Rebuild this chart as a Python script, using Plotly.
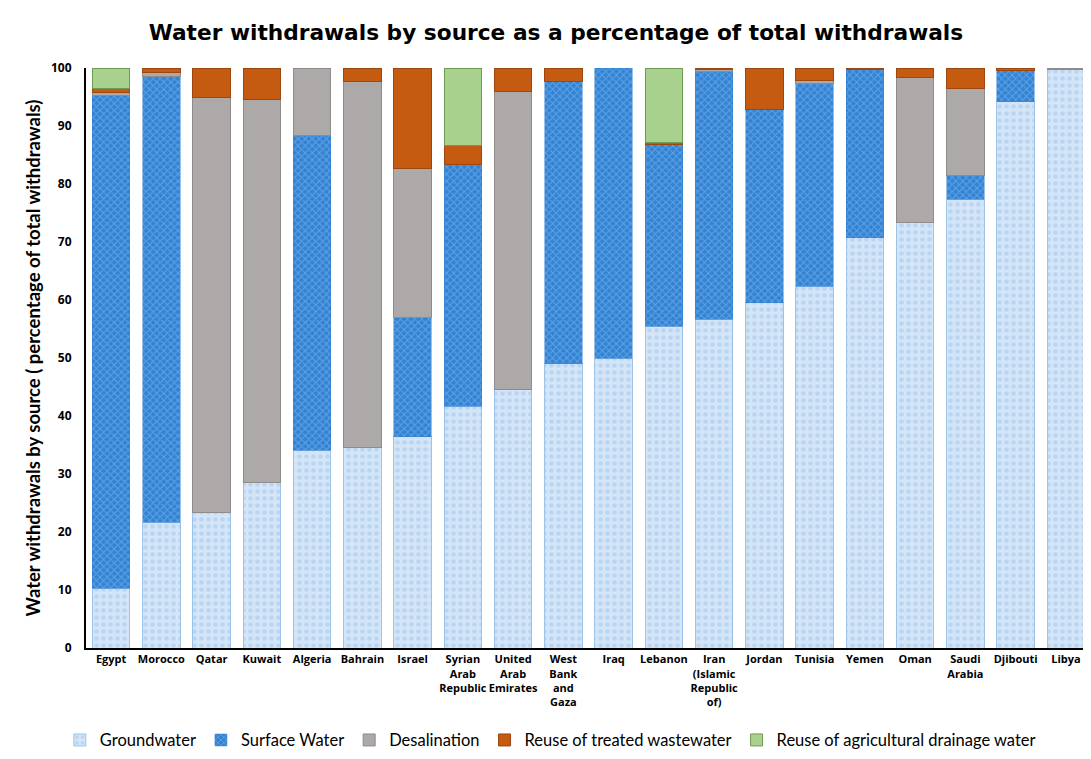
import plotly.graph_objects as go

countries = ["Egypt", "Morocco", "Qatar", "Kuwait", "Algeria", "Bahrain", "Israel",
             "Syrian<br>Arab<br>Republic", "United<br>Arab<br>Emirates", "West<br>Bank<br>and<br>Gaza",
             "Iraq", "Lebanon", "Iran<br>(Islamic<br>Republic<br>of)", "Jordan", "Tunisia", "Yemen",
             "Oman", "Saudi<br>Arabia", "Djibouti", "Libya"]

groundwater = [10.3, 21.7, 23.4, 28.6, 34.1, 34.5, 36.4, 41.7, 44.5, 49.0,
               50.0, 55.5, 56.7, 59.5, 62.4, 70.7, 73.4, 77.4, 94.2, 99.7]
surface_water = [84.9, 76.9, 0.0, 0.0, 54.3, 0.0, 20.5, 41.7, 0.0, 48.6,
                 50.0, 31.3, 42.7, 33.4, 35.0, 29.1, 0.0, 4.0, 5.3, 0.0]
desalination = [0.5, 0.7, 71.5, 65.9, 11.6, 63.1, 25.7, 0.0, 51.5, 0.0,
                0.0, 0.0, 0.3, 0.0, 0.4, 0.0, 24.9, 15.0, 0.0, 0.3]
reuse_treated = [0.8, 0.7, 5.1, 5.5, 0.0, 2.4, 17.4, 3.3, 4.0, 2.4,
                 0.0, 0.4, 0.3, 7.1, 2.2, 0.2, 1.7, 3.6, 0.5, 0.0]
reuse_agri = [3.5, 0.0, 0.0, 0.0, 0.0, 0.0, 0.0, 13.3, 0.0, 0.0,
              0.0, 12.8, 0.0, 0.0, 0.0, 0.0, 0.0, 0.0, 0.0, 0.0]

y_ticks = [0, 10, 20, 30, 40, 50, 60, 70, 80, 90, 100]

# the page body has an 8px margin, so the figure is sized to fit the window
W, H = 1083, 751


def nz(values):
    # zero-height segments are left out so no outline is drawn for them
    return [v if v else None for v in values]


fig = go.Figure()
fig.add_trace(go.Bar(
    name="Groundwater", x=countries, y=nz(groundwater),
    marker=dict(color="#cfe2f6", line=dict(color="#9cc3ea", width=1),
                pattern=dict(shape=".", bgcolor="#d3e5f7", fgcolor="#9fc6ee", size=7, solidity=0.35,
                             fillmode="overlay"))))
fig.add_trace(go.Bar(
    name="Surface Water", x=countries, y=nz(surface_water),
    marker=dict(color="#3282d2", line=dict(color="#3282d2", width=0.5),
                pattern=dict(shape="x", bgcolor="#3383d4", fgcolor="#8fc3f2", size=5, solidity=0.35,
                             fillmode="overlay"))))
fig.add_trace(go.Bar(
    name="Desalination", x=countries, y=nz(desalination),
    marker=dict(color="#ada9a9", line=dict(color="#8f8b8b", width=1))))
fig.add_trace(go.Bar(
    name="Reuse of treated wastewater", x=countries, y=nz(reuse_treated),
    marker=dict(color="#c55a11", line=dict(color="#9e4710", width=1))))
fig.add_trace(go.Bar(
    name="Reuse of agricultural drainage water", x=countries, y=nz(reuse_agri),
    marker=dict(color="#a9d18e", line=dict(color="#6f9a55", width=1))))

fig.update_layout(
    barmode="stack",
    bargap=0.25,
    width=W, height=H,
    paper_bgcolor="white", plot_bgcolor="white",
    margin=dict(l=78, r=0, t=60, b=111),
    font=dict(family="Open Sans, sans-serif", color="black"),
    title=dict(text="<b>Water withdrawals by source as a percentage of total withdrawals</b>",
               x=548 / W, xanchor="center", y=1 - 24 / H, yanchor="middle", yref="container",
               font=dict(family="DejaVu Sans, sans-serif", size=21.7, color="black")),
    legend=dict(orientation="h", x=0.462, xanchor="center", y=-0.159, yanchor="middle",
                font=dict(family="Lato, sans-serif", size=16.5, color="black"),
                traceorder="normal", itemwidth=30),
    xaxis=dict(showline=True, linecolor="black", linewidth=2, ticks="", automargin=False,
               tickfont=dict(size=11, family="Open Sans, sans-serif", color="black"),
               tickangle=0, showgrid=False),
    yaxis=dict(range=[0, 100], tickvals=y_ticks, ticktext=[f"<b>{v}</b>" for v in y_ticks],
               showline=True, linecolor="black", linewidth=2, showgrid=False, ticks="",
               automargin=False, ticklabelstandoff=10,
               tickfont=dict(size=12, color="black"),
               title=dict(text="<b>Water withdrawals by source ( percentage of total withdrawals)</b>",
                          font=dict(family="Lato, sans-serif", size=18.5, color="black"), standoff=6)),
)
fig.update_xaxes(tickvals=countries, ticktext=[f"<b>{c}</b>" for c in countries])

fig.write_html("out.html")
